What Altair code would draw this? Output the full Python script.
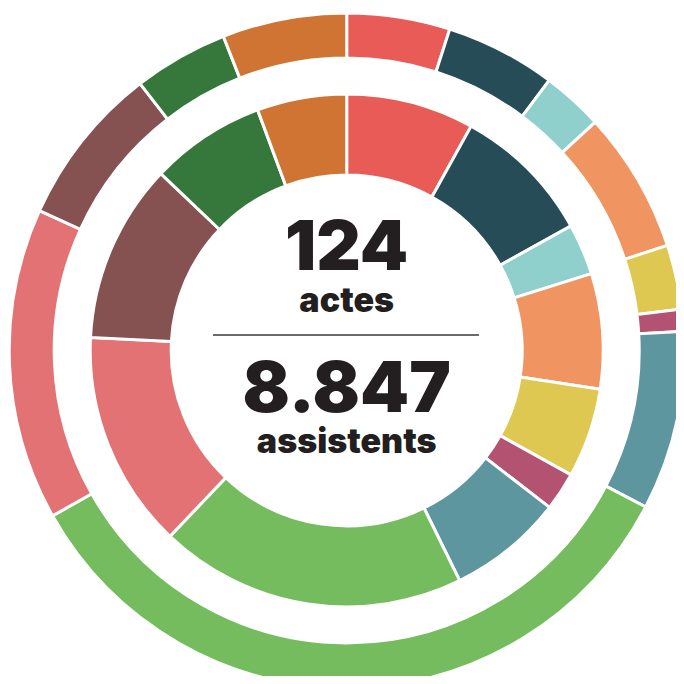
import altair as alt
import pandas as pd

# Categories (clockwise from 12 o'clock) and colours
categories = ["c01", "c02", "c03", "c04", "c05", "c06", "c07", "c08", "c09", "c10", "c11", "c12"]
colors = ["#E95B56", "#264D57", "#8FD0CC", "#F09462", "#DEC851", "#B45271",
          "#5E969F", "#74BC5D", "#E37274", "#855151", "#36773C", "#D07434"]

# Inner ring: actes (total 124)
actes = [10, 11, 4, 9, 7, 3, 9, 24, 17, 14, 9, 7]
# Outer ring: assistents (total 8.847)
assistents = [437, 469, 260, 600, 273, 93, 759, 3023, 1322, 683, 401, 527]

center_label_top = "124"
center_label_top_sub = "actes"
center_label_bottom = "8.847"
center_label_bottom_sub = "assistents"

inner_df = pd.DataFrame({"cat": categories, "idx": list(range(len(categories))), "v": actes})
outer_df = pd.DataFrame({"cat": categories, "idx": list(range(len(categories))), "v": assistents})

CX, CY = 338.7, 342.4
FONT = "Inter"
INK = "#231F20"

color = alt.Color("cat:N", scale=alt.Scale(domain=categories, range=colors), legend=None)

inner = alt.Chart(inner_df).mark_arc(
    radius=256.5, radius2=175.5, stroke="white", strokeWidth=3
).encode(
    theta=alt.Theta("v:Q", stack=True),
    order=alt.Order("idx:Q"),
    color=color,
    x=alt.value(CX), y=alt.value(CY),
)

outer = alt.Chart(outer_df).mark_arc(
    radius=337.5, radius2=292.5, stroke="white", strokeWidth=3
).encode(
    theta=alt.Theta("v:Q", stack=True),
    order=alt.Order("idx:Q"),
    color=color,
    x=alt.value(CX), y=alt.value(CY),
)

def label(txt, y, size):
    return alt.Chart(pd.DataFrame({"t": [txt]})).mark_text(
        font=FONT, fontWeight=900, fontSize=size, color=INK,
        align="center", baseline="alphabetic"
    ).encode(text="t:N", x=alt.value(CX), y=alt.value(y))

rule = alt.Chart(pd.DataFrame({"a": [0]})).mark_rule(color="#3a3a3a", strokeWidth=1.5).encode(
    x=alt.value(205), x2=alt.value(471), y=alt.value(327)
)

chart = alt.layer(
    outer, inner,
    label(center_label_top, 262, 69),
    label(center_label_top_sub, 303.5, 34),
    rule,
    label(center_label_bottom, 403.7, 70),
    label(center_label_bottom_sub, 445, 34),
).resolve_scale(theta="independent").properties(
    width=668, height=668, padding=0,
    autosize=alt.AutoSizeParams(type="none"),
).configure_view(stroke=None)

chart.save("out.html", embed_options={"renderer": "svg", "actions": False})
